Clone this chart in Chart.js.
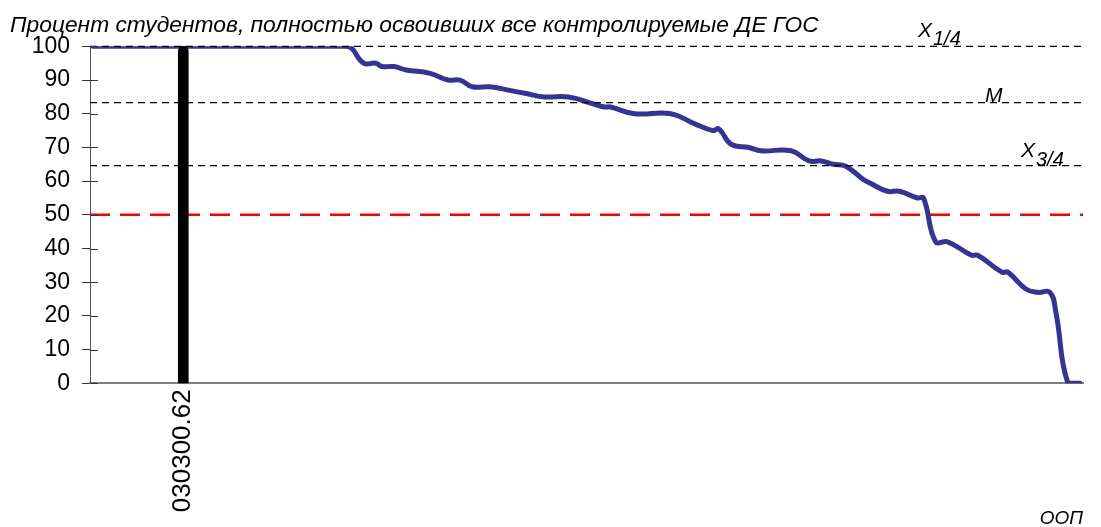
<!DOCTYPE html>
<html>
<head>
<meta charset="utf-8">
<script src="https://cdn.jsdelivr.net/npm/chart.js@4/dist/chart.umd.min.js"></script>
<style>
  html, body { margin: 0; padding: 0; background: #fff; }
  #wrap { width: 1101px; height: 527px; position: relative; }
</style>
</head>
<body>
<div id="wrap"><canvas id="c"></canvas></div>
<script>
// ---- data ----
const titleText = 'Процент студентов, полностью освоивших все контролируемые ДЕ ГОС';
const xTitle = 'ООП';
const rank = [1, 43, 46, 48, 49, 51, 53, 57, 60, 62, 64, 67, 70, 73, 76, 80, 84, 86, 87, 91, 97, 101, 104, 105, 107, 110, 112, 117, 120, 122, 124, 126, 129, 130, 133, 135, 138, 139, 141, 143, 147, 148, 152, 153, 156, 158, 160, 161, 163, 165];
const percent = [100, 100, 95, 95, 94, 94, 93, 92, 90, 90, 88, 88, 87, 86, 85, 85, 83, 82, 82, 80, 80, 77, 75, 75.5, 71, 70, 69, 69, 66, 66, 65, 64.5, 60.5, 59.5, 57, 57, 55, 55, 42, 42, 38, 38, 33, 33, 28, 27, 27, 21, 0, 0];
const highlightRank = 16;
const highlightLabel = '030300.62';
const highlightValue = 100;
const quartile1 = 100;   // X1/4
const median = 83.3;     // M
const quartile3 = 64.6;  // X3/4
const threshold = 50;
const rankMin = 0.5, rankMax = 165.5;
const yTicks = [0, 10, 20, 30, 40, 50, 60, 70, 80, 90, 100];

const hline = v => [{x: rankMin, y: v}, {x: rankMax, y: v}];
const points = rank.map((r, i) => ({x: r, y: percent[i]}));

const FONT = "'Liberation Sans', Arial, sans-serif";

const crossTicks = {
  id: 'crossTicks',
  afterDraw(chart) {
    const {ctx, chartArea, scales: {y}} = chart;
    ctx.save();
    ctx.strokeStyle = '#333';
    ctx.lineWidth = 1;
    y.ticks.forEach((t, i) => {
      const py = Math.round(y.getPixelForTick(i)) + 0.5;
      ctx.beginPath();
      ctx.moveTo(chartArea.left, py);
      ctx.lineTo(chartArea.left + 8, py);
      ctx.stroke();
    });
    ctx.restore();
  }
};

const lineLabels = {
  id: 'lineLabels',
  afterDraw(chart) {
    const {ctx, chartArea, scales: {y}} = chart;
    const R = chartArea.right;
    ctx.save();
    ctx.fillStyle = '#000';
    ctx.textBaseline = 'alphabetic';
    ctx.textAlign = 'left';
    // X1/4
    let py = y.getPixelForValue(quartile1);
    ctx.font = 'italic 21px ' + FONT;
    ctx.fillText('X', R - 165, py - 9);
    ctx.font = 'italic 20px ' + FONT;
    ctx.fillText('1/4', R - 150, py - 1);
    // M
    py = y.getPixelForValue(median);
    ctx.font = 'italic 21px ' + FONT;
    ctx.fillText('M', R - 98, py - 1);
    // X3/4
    py = y.getPixelForValue(quartile3);
    ctx.font = 'italic 21px ' + FONT;
    ctx.fillText('X', R - 62, py - 9);
    ctx.font = 'italic 20px ' + FONT;
    ctx.fillText('3/4', R - 47, py + 0);
    ctx.restore();
  }
};

new Chart(document.getElementById('c'), {
  data: {
    datasets: [
      {
        type: 'bar',
        data: [{x: highlightRank, y: highlightValue}],
        backgroundColor: '#000',
        barThickness: 10,
        borderRadius: {topLeft: 5, topRight: 5},
        borderSkipped: 'bottom',
        order: 0,
        clip: 6
      },
      {
        type: 'line',
        data: hline(quartile1),
        borderColor: '#000', borderWidth: 1.3, borderDash: [7, 5],
        pointRadius: 0, order: 1, clip: 2
      },
      {
        type: 'line',
        data: hline(median),
        borderColor: '#000', borderWidth: 1.3, borderDash: [7, 5],
        pointRadius: 0, order: 1
      },
      {
        type: 'line',
        data: hline(quartile3),
        borderColor: '#000', borderWidth: 1.3, borderDash: [7, 5],
        pointRadius: 0, order: 1
      },
      {
        type: 'line',
        data: points,
        borderColor: '#333399', borderWidth: 5,
        tension: 0.45,
        pointRadius: 0, order: 2, clip: 0,
        borderJoinStyle: 'round', borderCapStyle: 'round'
      },
      {
        type: 'line',
        data: hline(threshold),
        borderColor: '#ff0000', borderWidth: 2.5, borderDash: [20, 10],
        pointRadius: 0, order: 3
      }
    ]
  },
  options: {
    responsive: true,
    maintainAspectRatio: false,
    animation: false,
    events: [],
    layout: { padding: { left: 10, right: 18, top: 0, bottom: 0 } },
    plugins: {
      legend: { display: false },
      tooltip: { enabled: false },
      title: {
        display: true,
        text: titleText,
        align: 'start',
        color: '#000',
        font: { family: FONT, size: 22.8, style: 'italic', weight: 'normal' },
        padding: { top: 12, bottom: 7 }
      }
    },
    scales: {
      x: {
        type: 'linear',
        offset: false,
        min: rankMin,
        max: rankMax,
        afterBuildTicks(scale) { scale.ticks = [{value: highlightRank}]; },
        ticks: {
          autoSkip: false,
          maxRotation: 90,
          minRotation: 90,
          color: '#000',
          padding: 6,
          font: { family: FONT, size: 26 },
          callback: v => (v === highlightRank ? highlightLabel : '')
        },
        grid: { display: false, drawTicks: false },
        border: { display: true, color: '#808080', width: 2 },
        title: {
          display: true,
          text: xTitle,
          align: 'end',
          color: '#000',
          font: { family: FONT, size: 19, style: 'italic' },
          padding: { top: -11, bottom: -3 }
        }
      },
      y: {
        type: 'linear',
        min: 0,
        max: 100,
        afterFit(scale) { scale.width = 80; },
        afterBuildTicks(scale) { scale.ticks = yTicks.map(v => ({value: v})); },
        ticks: {
          color: '#000',
          padding: 12,
          font: { family: FONT, size: 23 }
        },
        grid: { display: true, drawOnChartArea: false, drawTicks: true, tickLength: 8, color: '#333' },
        border: { display: true, color: '#555', width: 1 }
      }
    }
  },
  plugins: [crossTicks, lineLabels]
});
</script>
</body>
</html>
